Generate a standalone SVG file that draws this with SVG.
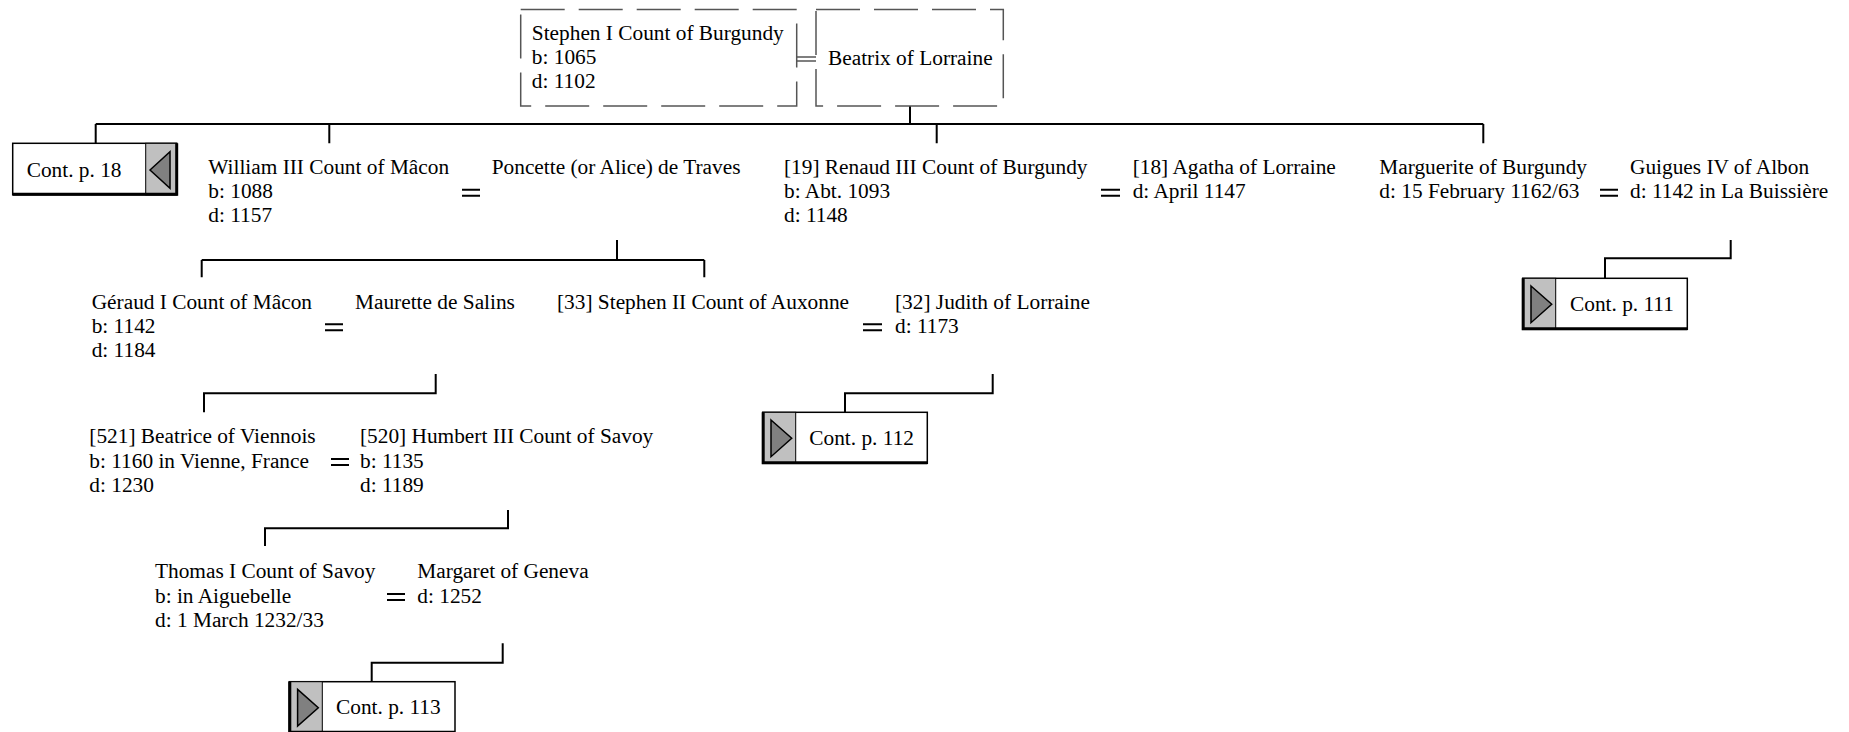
<svg xmlns="http://www.w3.org/2000/svg" width="1849" height="732" viewBox="0 0 1849 732">
<style>
.t{font-family:"Liberation Serif","Times New Roman",serif;font-size:21.33px;fill:#000}
.c{stroke:#000;stroke-width:2;fill:none}
.eq{stroke:#000;stroke-width:2}
.dbox{fill:#fff;stroke:#555;stroke-width:1.5;stroke-dasharray:44 14}
.cbox{fill:#fff;stroke:#000;stroke-width:1.5}
.panel{fill:#c0c0c0;stroke:#000;stroke-width:1}
.thick{stroke:#000;stroke-width:3}
.tri{fill:#808080;stroke:#000;stroke-width:1.5}
</style>
<rect width="1849" height="732" fill="#fff"/>
<g id="connectors">
<path class="c" d="M910,106V124M95.7,124H1483.3M95.7,124V143.3M329.3,124V143.3M936.7,124V143.3M1483.3,124V143.3"/>
<path class="c" d="M617,240V260M201.7,260H704.3M201.7,260V277.3M704.3,260V277.3"/>
<path class="c" d="M1730.7,240V258.3H1605V278.3"/>
<path class="c" d="M435.7,374V393.3H204V412.3"/>
<path class="c" d="M992.7,374V393.3H845V412.3"/>
<path class="c" d="M508,510V528.3H265V546"/>
<path class="c" d="M502.7,643.3V662.7H371.7V681.7"/>
<path stroke="#555" stroke-width="1.5" d="M797,57H816M797,61H816"/>
<path class="eq" d="M462,189.7H480M462,195.7H480"/>
<path class="eq" d="M1101,189.7H1120M1101,195.7H1120"/>
<path class="eq" d="M1600,189.7H1618M1600,195.7H1618"/>
<path class="eq" d="M325,324.2H343M325,330.2H343"/>
<path class="eq" d="M863,324.2H882M863,330.2H882"/>
<path class="eq" d="M331,459H349M331,465H349"/>
<path class="eq" d="M387,594H405M387,600H405"/>
</g>
<g id="stephen1">
<rect class="dbox" x="520.7" y="9.5" width="276" height="96.5"/>
<text class="t" x="531.8" y="40">Stephen I Count of Burgundy</text>
<text class="t" x="531.8" y="64">b: 1065</text>
<text class="t" x="531.8" y="88">d: 1102</text>
</g>
<g id="beatrix">
<rect class="dbox" x="816" y="9.5" width="187.3" height="96.5"/>
<text class="t" x="828" y="64.5">Beatrix of Lorraine</text>
</g>
<g id="cont18" transform="translate(12.7,143.3)">
<rect class="cbox" x="0" y="0" width="164" height="51.5"/>
<rect class="panel" x="133" y="0" width="31" height="51.5"/>
<path class="thick" d="M164,0V51.5M0,51H165.5"/>
<polygon class="tri" points="137.3,26.7 157.3,8.4 157.3,45"/>
<text class="t" x="14" y="33.4">Cont. p. 18</text>
</g>
<g id="william">
<text class="t" x="208.3" y="174">William III Count of Mâcon</text>
<text class="t" x="208.3" y="198">b: 1088</text>
<text class="t" x="208.3" y="222">d: 1157</text>
</g>
<g id="poncette">
<text class="t" x="491.7" y="174">Poncette (or Alice) de Traves</text>
</g>
<g id="renaud">
<text class="t" x="784" y="174">[19] Renaud III Count of Burgundy</text>
<text class="t" x="784" y="198">b: Abt. 1093</text>
<text class="t" x="784" y="222">d: 1148</text>
</g>
<g id="agatha">
<text class="t" x="1132.7" y="174">[18] Agatha of Lorraine</text>
<text class="t" x="1132.7" y="198">d: April 1147</text>
</g>
<g id="marguerite">
<text class="t" x="1379.3" y="174">Marguerite of Burgundy</text>
<text class="t" x="1379.3" y="198">d: 15 February 1162/63</text>
</g>
<g id="guigues">
<text class="t" x="1630" y="174">Guigues IV of Albon</text>
<text class="t" x="1630" y="198">d: 1142 in La Buissière</text>
</g>
<g id="cont111" transform="translate(1522.7,278.3)">
<rect class="cbox" x="0" y="0" width="164.6" height="51"/>
<rect class="panel" x="0" y="0" width="33" height="51"/>
<path class="thick" d="M0.5,0V51M-1,50.5H164.6"/>
<polygon class="tri" points="8.3,7.7 29,26 8.3,44.4"/>
<text class="t" x="47.3" y="32.5">Cont. p. 111</text>
</g>
<g id="geraud">
<text class="t" x="91.7" y="308.5">Géraud I Count of Mâcon</text>
<text class="t" x="91.7" y="332.7">b: 1142</text>
<text class="t" x="91.7" y="356.9">d: 1184</text>
</g>
<g id="maurette">
<text class="t" x="355" y="308.5">Maurette de Salins</text>
</g>
<g id="stephen2">
<text class="t" x="557" y="308.5">[33] Stephen II Count of Auxonne</text>
</g>
<g id="judith">
<text class="t" x="895" y="308.5">[32] Judith of Lorraine</text>
<text class="t" x="895" y="332.7">d: 1173</text>
</g>
<g id="cont112" transform="translate(762.7,412.3)">
<rect class="cbox" x="0" y="0" width="164.6" height="51"/>
<rect class="panel" x="0" y="0" width="33" height="51"/>
<path class="thick" d="M0.5,0V51M-1,50.5H164.6"/>
<polygon class="tri" points="8.3,7.7 29,26 8.3,44.4"/>
<text class="t" x="46.6" y="32.5">Cont. p. 112</text>
</g>
<g id="beatrice">
<text class="t" x="89.3" y="443.3">[521] Beatrice of Viennois</text>
<text class="t" x="89.3" y="467.5">b: 1160 in Vienne, France</text>
<text class="t" x="89.3" y="491.7">d: 1230</text>
</g>
<g id="humbert">
<text class="t" x="360" y="443.3">[520] Humbert III Count of Savoy</text>
<text class="t" x="360" y="467.5">b: 1135</text>
<text class="t" x="360" y="491.7">d: 1189</text>
</g>
<g id="thomas">
<text class="t" x="155" y="578.3">Thomas I Count of Savoy</text>
<text class="t" x="155" y="602.5">b: in Aiguebelle</text>
<text class="t" x="155" y="626.7">d: 1 March 1232/33</text>
</g>
<g id="margaret">
<text class="t" x="417.3" y="578.3">Margaret of Geneva</text>
<text class="t" x="417.3" y="602.5">d: 1252</text>
</g>
<g id="cont113" transform="translate(289.3,681.7)">
<rect class="cbox" x="0" y="0" width="165.7" height="51"/>
<rect class="panel" x="0" y="0" width="33" height="51"/>
<path class="thick" d="M0.5,0V51M-1,50.5H165.7"/>
<polygon class="tri" points="8.3,7.7 29,26 8.3,44.4"/>
<text class="t" x="46.7" y="32.5">Cont. p. 113</text>
</g>
</svg>
